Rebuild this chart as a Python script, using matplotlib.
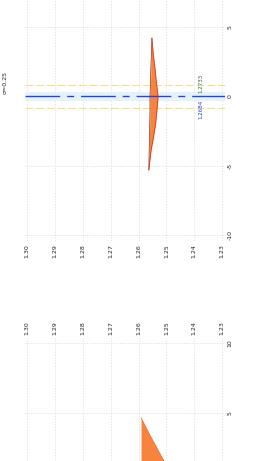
import matplotlib

matplotlib.use("Agg")
import matplotlib.pyplot as plt  # noqa: E402

# horizontal value axis (shared by both panels), labels read top to bottom
val_ticks = [1.30, 1.29, 1.28, 1.27, 1.26, 1.25, 1.24, 1.23]
val_labels = ["1.30", "1.29", "1.28", "1.27", "1.26", "1.25", "1.24", "1.23"]

# offset axis ticks (drawn on the right side)
top_offsets = [5, 0, -5, -10]
bot_offsets = [10, 5]

# upper panel: spindle around the zero offset
spindle_x = [4.2, 3, 2, 1, 0, -1, -2, -3, -4, -5.3]
spindle_outer = [1.2552, 1.2547, 1.2541, 1.2536, 1.2530, 1.2534, 1.2539, 1.2547, 1.2556, 1.2563]
spindle_inner = [1.2552, 1.2554, 1.2556, 1.2557, 1.2559, 1.2559, 1.2560, 1.2561, 1.2562, 1.2563]

# lower panel: start of the filled wedge
wedge_x = [4.64, 3.5, 2.5, 1.5]
wedge_curve = [1.2591, 1.2562, 1.2535, 1.2508]
wedge_base = 1.2591

sigma = 0.3
band = 0.85
note_hi, note_lo = "1.2733", "1.2684"
note_pos = 1.2376

BLUE = "#2346d6"
ORANGE = "#f6843f"
GRID = "#d9d9d9"

fig = plt.figure(figsize=(2.63, 4.61), dpi=100)
ax_top = fig.add_axes([25 / 263, 1 - 241 / 461, 200 / 263, 241 / 461])
ax_bot = fig.add_axes([25 / 263, 0.0, 200 / 263, 1 - 338 / 461])


def style(ax, offsets, top_labels=False):
    ax.set_xlim(1.3007, 1.2290)
    ax.set_xticks(val_ticks)
    ax.set_xticklabels(val_labels, rotation=90, fontsize=4.5, color="#222")
    if top_labels:
        ax.xaxis.tick_top()
    ax.set_yticks(offsets)
    ax.set_yticklabels([str(o) for o in offsets], rotation=90, fontsize=4.5,
                       color="#222", va="center")
    ax.yaxis.tick_right()
    ax.tick_params(length=0, pad=2)
    for s in ax.spines.values():
        s.set_visible(False)
    ax.grid(True, color=GRID, lw=0.5, ls=(0, (2, 2)))
    ax.set_axisbelow(True)


# upper panel
ax = ax_top
style(ax, top_offsets)
ax.set_ylim(-10.43, 6.95)
ax.axhspan(-sigma, sigma, color="#e6f2fb", lw=0, zorder=1)
for b in (band, -band):
    ax.axhline(b, color="#f1e07a", lw=0.7, ls=(0, (8, 3)), zorder=1)
ax.axhline(0, color=BLUE, lw=1.0, ls=(0, (25, 5, 5, 5)), zorder=3)
ax.fill_betweenx(spindle_x, spindle_inner, spindle_outer, color=ORANGE, lw=0, zorder=2)
ax.plot(spindle_outer, spindle_x, color="#e03a22", lw=0.6, zorder=4)
ax.plot(spindle_inner, spindle_x, color="#8a2a10", lw=0.5, zorder=4)
ax.text(note_pos, 0.25, note_hi, rotation=90, fontsize=4, color="#2e6b3a",
        ha="center", va="bottom", zorder=5)
ax.text(note_pos, -0.25, note_lo, rotation=90, fontsize=4, color=BLUE,
        ha="center", va="top", zorder=5)

# lower panel
ax = ax_bot
style(ax, bot_offsets, top_labels=True)
ax.set_ylim(1.54, 10.36)
ax.fill_betweenx(wedge_x, wedge_base, wedge_curve, color=ORANGE, lw=0, zorder=2)
ax.plot(wedge_curve, wedge_x, color="#f07030", lw=0.5, zorder=3)

fig.text(5.5 / 263, 1 - 83 / 461, "σ=0.25", rotation=90, fontsize=4.5,
         ha="center", va="center", color="#222")

fig.savefig("out.png", dpi=100)
plt.close(fig)
